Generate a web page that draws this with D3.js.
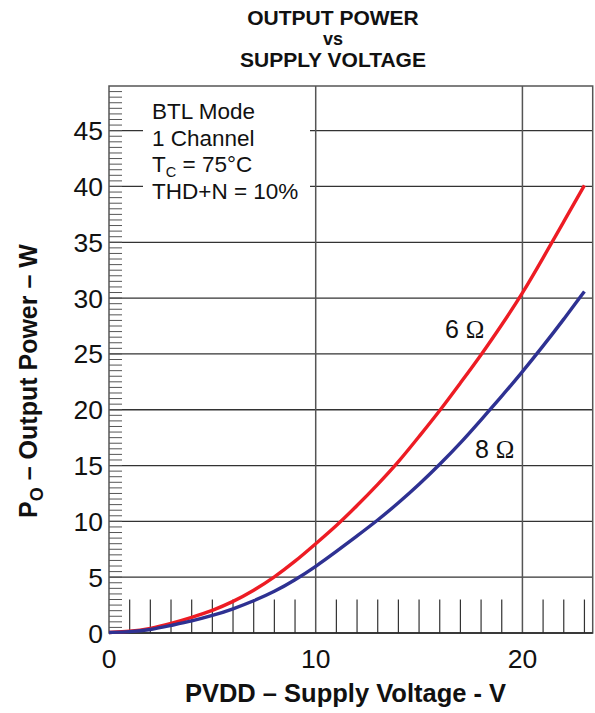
<!DOCTYPE html>
<html>
<head>
<meta charset="utf-8">
<script src="https://cdn.jsdelivr.net/npm/d3@7/dist/d3.min.js"></script>
<style>
  html, body { margin: 0; padding: 0; background: #fff; }
  svg { display: block; }
  text { font-family: "Liberation Sans", Arial, Helvetica, sans-serif; fill: #111; }
</style>
</head>
<body>
<svg id="chart" width="595" height="713"></svg>
<script>
// ---- Data ----
const supplyVoltage = [0,1,2,3,4,5,6,7,8,9,10,11,12,13,14,15,16,17,18,19,20,21,22,23];
const power6ohm = [0.05,0.12,0.38,0.85,1.4,2.0,2.8,3.8,5.0,6.4,8.0,9.6,11.4,13.3,15.3,17.6,19.9,22.4,24.9,27.6,30.4,33.6,36.85,40.1];
const power8ohm = [0.05,0.1,0.28,0.68,1.07,1.55,2.15,2.87,3.7,4.75,5.95,7.3,8.7,10.1,11.65,13.3,15.1,17.0,19.1,21.2,23.4,25.7,28.1,30.6];
const xTickLabels = [0, 10, 20];
const yTickLabels = [0, 5, 10, 15, 20, 25, 30, 35, 40, 45];
const xDomain = [0, 23.4];
const yDomain = [0, 49];
const titleLines = ["OUTPUT POWER", "vs", "SUPPLY VOLTAGE"];
const seriesLabels = ["6 Ω", "8 Ω"];

// ---- Layout ----
const L = 109, R = 592.7, T = 86, B = 633;
const svg = d3.select("#chart");
const x = d3.scaleLinear().domain(xDomain).range([L, R]);
const y = d3.scaleLinear().domain(yDomain).range([B, T]);

// Title
svg.append("g").selectAll("text").data(titleLines).join("text")
  .attr("x", 333).attr("y", (d, i) => [24.5, 45, 66.5][i])
  .attr("text-anchor", "middle")
  .style("font-weight", "bold")
  .style("font-size", (d, i) => i === 1 ? "18px" : "21px")
  .text(d => d);

// Horizontal grid (major)
const grid = svg.append("g");
grid.selectAll("line.h").data(yTickLabels.filter(v => v > 0)).join("line")
  .attr("x1", L).attr("x2", R).attr("y1", d => y(d)).attr("y2", d => y(d))
  .attr("stroke", "#333").attr("stroke-width", 1.3);
// Vertical grid
grid.selectAll("line.v").data([10, 20]).join("line")
  .attr("y1", T).attr("y2", B).attr("x1", d => x(d)).attr("x2", d => x(d))
  .attr("stroke", "#555").attr("stroke-width", 1.5);

// Y minor ticks (every 0.5)
const yMinor = d3.range(0.5, 49, 0.5);
svg.append("g").selectAll("line").data(yMinor).join("line")
  .attr("x1", L).attr("x2", L + 13)
  .attr("y1", d => y(d)).attr("y2", d => y(d))
  .attr("stroke", "#555").attr("stroke-width", 1);

// X minor ticks (every 1 V)
const xMinor = d3.range(1, 24).filter(v => v !== 10 && v !== 20);
svg.append("g").selectAll("line").data(xMinor).join("line")
  .attr("x1", d => x(d)).attr("x2", d => x(d))
  .attr("y1", B).attr("y2", y(3))
  .attr("stroke", "#333").attr("stroke-width", 1.2);

// Frame
svg.append("rect").attr("x", L).attr("y", T).attr("width", R - L).attr("height", B - T)
  .attr("fill", "none").attr("stroke", "#555").attr("stroke-width", 1.5);
svg.append("line").attr("x1", L).attr("x2", R).attr("y1", B).attr("y2", B)
  .attr("stroke", "#222").attr("stroke-width", 1.5);

// Legend box (white background covering grid)
svg.append("rect").attr("x", 143).attr("y", 94).attr("width", 167).attr("height", 118)
  .attr("fill", "#fff");
const info = svg.append("g").style("font-size", "22.5px");
info.append("text").attr("x", 152).attr("y", 119).text("BTL Mode");
info.append("text").attr("x", 152).attr("y", 145.5).text("1 Channel");
const tc = info.append("text").attr("x", 152).attr("y", 171.5);
tc.append("tspan").text("T");
tc.append("tspan").attr("dy", 5).style("font-size", "14.5px").text("C");
tc.append("tspan").attr("dy", -5).text(" = 75°C");
info.append("text").attr("x", 152).attr("y", 199).text("THD+N = 10%");

// Curves
const line = d3.line().x(d => x(d[0])).y(d => y(d[1])).curve(d3.curveBasis);
svg.append("path").datum(supplyVoltage.map((v, i) => [v, power6ohm[i]]))
  .attr("d", line).attr("fill", "none").attr("stroke", "#ED1C24").attr("stroke-width", 3.4);
svg.append("path").datum(supplyVoltage.map((v, i) => [v, power8ohm[i]]))
  .attr("d", line).attr("fill", "none").attr("stroke", "#2E3192").attr("stroke-width", 3.4);

// Series labels
const labPos = [[445, 338], [475, 458]];
seriesLabels.forEach((s, i) => {
  const t = svg.append("text").attr("x", labPos[i][0]).attr("y", labPos[i][1]).style("font-size", "25px");
  const parts = s.split(" ");
  t.append("tspan").text(parts[0] + " ");
  t.append("tspan").style("font-family", "'Liberation Serif', 'Times New Roman', serif").text(parts[1]);
});

// Tick labels
svg.append("g").selectAll("text").data(yTickLabels).join("text")
  .attr("x", 103).attr("y", d => y(d)).attr("dy", "0.36em")
  .attr("text-anchor", "end").style("font-size", "26.5px").text(d => d);
svg.append("g").selectAll("text").data(xTickLabels).join("text")
  .attr("x", d => x(d)).attr("y", 668)
  .attr("text-anchor", "middle").style("font-size", "26.5px").text(d => d);

// Axis titles
svg.append("text").attr("x", 345.5).attr("y", 702).attr("text-anchor", "middle")
  .style("font-weight", "bold").style("font-size", "25.5px").text("PVDD – Supply Voltage - V");
const yl = svg.append("text").attr("transform", "translate(37,381) rotate(-90)")
  .attr("text-anchor", "middle").style("font-weight", "bold").style("font-size", "25px");
yl.append("tspan").text("P");
yl.append("tspan").attr("dy", 6).style("font-size", "18px").text("O");
yl.append("tspan").attr("dy", -6).text(" – Output Power – W");
</script>
</body>
</html>
